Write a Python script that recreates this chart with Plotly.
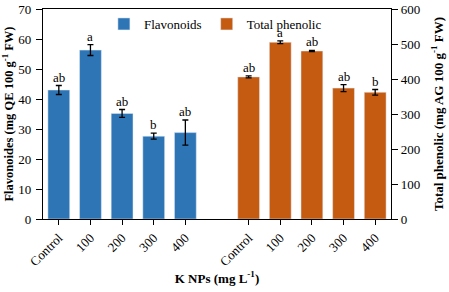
import plotly.graph_objects as go

doses = ["Control", "100", "200", "300", "400"]
flavonoids = [43.0, 56.3, 35.2, 27.6, 28.8]
flavonoids_err = [1.5, 1.8, 1.3, 1.0, 4.2]
flavonoids_letters = ["ab", "a", "ab", "b", "ab"]
phenolic = [406, 505, 480, 374, 362]
phenolic_err = [3, 4, 2, 10, 8]
phenolic_letters = ["ab", "a", "ab", "ab", "b"]

BLUE = "#2E75B6"
ORANGE = "#C55A11"
FONT = "Liberation Serif"

x_flav = list(range(0, 5))
x_phen = list(range(6, 11))

fig = go.Figure()
fig.add_trace(go.Bar(
    x=x_flav, y=flavonoids, name="Flavonoids", marker_color=BLUE, width=0.69,
    error_y=dict(type="data", array=flavonoids_err, color="black", thickness=1.3, width=3),
    yaxis="y",
))
fig.add_trace(go.Bar(
    x=x_phen, y=phenolic, name="Total phenolic", marker_color=ORANGE, width=0.69,
    error_y=dict(type="data", array=phenolic_err, color="black", thickness=1.3, width=3),
    yaxis="y2",
))

annotations = []
for xv, v, e, t in zip(x_flav, flavonoids, flavonoids_err, flavonoids_letters):
    annotations.append(dict(x=xv, y=v + e, yref="y", xref="x", text=t, showarrow=False,
                            yanchor="bottom", yshift=-1, font=dict(family=FONT, size=13)))
for xv, v, e, t in zip(x_phen, phenolic, phenolic_err, phenolic_letters):
    annotations.append(dict(x=xv, y=v + e, yref="y2", xref="x", text=t, showarrow=False,
                            yanchor="bottom", yshift=-1, font=dict(family=FONT, size=13)))

fig.update_layout(
    width=449, height=292,
    margin=dict(l=43, r=58, t=9, b=73),
    plot_bgcolor="white", paper_bgcolor="white",
    barmode="overlay",
    font=dict(family=FONT, size=13, color="black"),
    showlegend=True,
    annotations=annotations,
    legend=dict(orientation="h", x=0.175, y=1.0, xanchor="left", yanchor="top",
                font=dict(family=FONT, size=13), bgcolor="rgba(0,0,0,0)",
                itemwidth=30, tracegroupgap=0),
    xaxis=dict(
        range=[-0.5, 10.5], tickvals=x_flav + x_phen, ticktext=doses + doses,
        tickangle=-45, ticks="outside", ticklen=5, tickcolor="black",
        showline=True, linecolor="black", linewidth=1.3, mirror=True,
        showgrid=False, zeroline=False, automargin=False,
        title=dict(text="<b>K NPs (mg L<sup>-1</sup>)</b>", font=dict(family=FONT, size=13), standoff=2),
        tickfont=dict(family=FONT, size=13),
    ),
    yaxis=dict(
        range=[0, 70], dtick=10, ticks="outside", ticklen=6, tickcolor="black",
        showline=True, linecolor="black", linewidth=1.3, showgrid=False, zeroline=False,
        ticklabelstandoff=2, automargin=False,
        title=dict(text="<b>Flavonoides (mg QE 100 g<sup>-1</sup> FW)</b>", font=dict(family=FONT, size=12.5), standoff=2),
        tickfont=dict(family=FONT, size=13),
    ),
    yaxis2=dict(
        range=[0, 600], dtick=100, overlaying="y", side="right",
        ticks="outside", ticklen=6, tickcolor="black",
        showline=True, linecolor="black", linewidth=1.3, showgrid=False, zeroline=False,
        automargin=False,
        title=dict(text="<b>Total phenolic (mg AG 100 g<sup>-1</sup> FW)</b>", font=dict(family=FONT, size=13), standoff=14),
        tickfont=dict(family=FONT, size=13),
    ),
)

fig.write_html("out.html", config={"displayModeBar": False},
               post_script="document.body.style.margin='0';")
